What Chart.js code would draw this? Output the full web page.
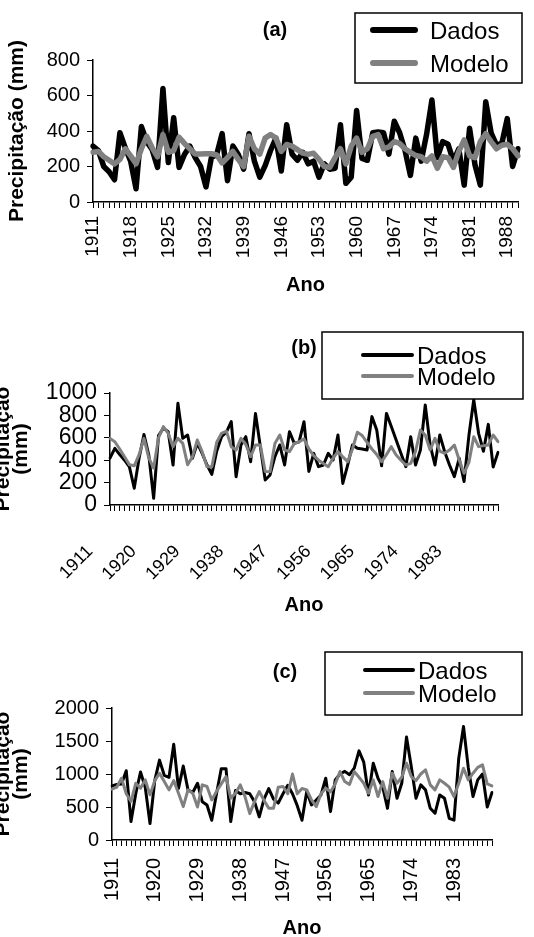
<!DOCTYPE html>
<html>
<head>
<meta charset="utf-8">
<script src="https://cdn.jsdelivr.net/npm/chart.js@4.4.0/dist/chart.umd.min.js"></script>
<style>
  html, body { margin: 0; padding: 0; background: #fff; }
  #wrap { position: relative; width: 534px; height: 937px; overflow: hidden; }
  canvas { position: absolute; left: 0; }
</style>
</head>
<body>
<div id="wrap">
  <canvas id="chartA" width="534" height="315" style="top:0px"></canvas>
  <canvas id="chartB" width="534" height="310" style="top:315px"></canvas>
  <canvas id="chartC" width="534" height="312" style="top:625px"></canvas>
</div>
<script>
// years on the x axis
function yearRange(first, last) {
    const out = [];
    for (let y = first; y <= last; y++) out.push(String(y));
    return out;
}
const yearsA = yearRange(1911, 1990);
const yearsB = yearRange(1911, 1991);
const yearsC = yearRange(1911, 1991);

// (a) precipitation, mm
const dadosA = [315, 290, 200, 170, 125, 390, 305, 230, 75, 425, 340, 295, 195, 640, 222, 475, 195, 268, 315, 250,
    200, 85, 250, 268, 385, 120, 315, 268, 185, 385, 230, 140, 205, 290, 360, 175, 435,
    270, 235, 280, 215, 230, 140, 215, 185, 190, 435, 105, 140, 515, 245, 235, 390, 395, 390, 270, 455,
    390, 290, 150, 360, 230, 380, 575, 250, 340, 325, 230, 300, 95, 415, 210, 95, 565, 390, 320, 330, 470, 200, 300];
const modeloA = [280, 285, 255, 235, 215, 240, 300, 260, 215, 300, 370, 305, 255, 380, 280, 290, 365, 330, 300, 270,
    270, 272, 272, 265, 220, 250, 285, 240, 200, 370, 300, 270, 360, 380, 360, 285, 324,
    315, 295, 275, 268, 275, 240, 200, 195, 250, 300, 215, 315, 360, 280, 300, 370, 380, 300, 310, 340,
    330, 300, 280, 262, 255, 230, 260, 190, 255, 250, 195, 285, 350, 260, 250, 340, 385, 340, 300, 320, 325, 300, 260];

// (b)
const dadosB = [420, 505, 450, 400, 340, 150, 420, 630, 446, 60, 620, 685, 655, 357, 908, 595, 625, 417, 550, 461,
    357, 274, 480, 610, 650, 744, 253, 536, 610, 387, 818, 521, 223, 268, 431, 536, 357, 655, 550, 565,
    744, 300, 461, 342, 357, 461, 402, 625, 193, 357, 536, 506, 500, 491, 789, 670, 350, 818, 700, 580,
    460, 342, 610, 357, 491, 893, 536, 357, 625, 476, 357, 253, 417, 210, 620, 940, 640, 480, 720, 340, 470];
const modeloB = [595, 565, 500, 431, 360, 350, 450, 595, 420, 330, 600, 700, 640, 521, 595, 550, 360, 430, 580, 476,
    342, 342, 560, 640, 660, 521, 491, 595, 540, 431, 536, 536, 300, 298, 550, 625, 491, 476, 550, 565,
    590, 500, 440, 400, 370, 342, 420, 476, 430, 387, 500, 650, 620, 560, 500, 450, 387, 450, 521, 446,
    400, 357, 372, 480, 670, 625, 491, 595, 480, 461, 490, 536, 402, 283, 380, 610, 521, 530, 536, 625, 565];

// (c)
const dadosC = [820, 840, 850, 1050, 280, 700, 1030, 800, 250, 900, 1210, 980, 950, 1450, 780, 1120, 760, 720, 860, 580,
    530, 300, 700, 1080, 1080, 280, 750, 700, 720, 700, 580, 350, 620, 780, 620, 560, 700, 830, 700, 520,
    300, 734, 531, 607, 683, 936, 430, 911, 1000, 1040, 990, 1090, 1350, 1180, 683, 1164, 936, 800, 480, 1037,
    632, 860, 1560, 1113, 632, 835, 759, 481, 405, 683, 632, 329, 300, 1240, 1720, 1100, 658, 911, 1000, 500, 720];
const modeloC = [770, 800, 936, 700, 582, 860, 784, 911, 683, 900, 1012, 885, 760, 900, 708, 506, 759, 708, 500, 835,
    810, 607, 734, 850, 961, 632, 708, 835, 658, 400, 582, 734, 600, 481, 481, 800, 810, 700, 1000, 700,
    780, 760, 607, 506, 700, 784, 730, 850, 1037, 885, 840, 1037, 950, 860, 708, 911, 658, 885, 632, 1012,
    860, 950, 1164, 961, 900, 1000, 1063, 835, 759, 911, 860, 800, 658, 860, 1088, 911, 1012, 1100, 1139, 850, 820];

const FONT = '"Liberation Sans", Arial, sans-serif';

// panel letter + boxed legend drawn over the plot
const panelDecor = {
    id: 'panelDecor',
    afterDraw(chart, args, opts) {
        const ctx = chart.ctx;
        ctx.save();
        ctx.fillStyle = '#000';
        ctx.font = 'bold 20px ' + FONT;
        ctx.textAlign = 'center';
        ctx.textBaseline = 'middle';
        ctx.fillText(opts.title, opts.titleX, opts.titleY);

        const [bx, by, bw, bh] = opts.box;
        ctx.fillStyle = '#fff';
        ctx.fillRect(bx, by, bw, bh);
        ctx.strokeStyle = '#000';
        ctx.lineWidth = 1.5;
        ctx.strokeRect(bx, by, bw, bh);

        ctx.font = '24px ' + FONT;
        ctx.textAlign = 'left';
        chart.data.datasets.forEach((ds, i) => {
            const y = opts.rows[i];
            ctx.beginPath();
            ctx.moveTo(opts.lineX[0], y);
            ctx.lineTo(opts.lineX[1], y);
            ctx.strokeStyle = ds.borderColor;
            ctx.lineWidth = opts.lineW;
            ctx.lineCap = 'round';
            ctx.stroke();
            ctx.fillStyle = '#000';
            ctx.fillText(ds.label, opts.textX, y + 2);
        });
        ctx.restore();
    }
};

function makePanel(id, cfg) {
    const H = cfg.height;
    const area = cfg.area;
    return new Chart(document.getElementById(id), {
        type: 'line',
        data: {
            labels: cfg.years,
            datasets: [
                { label: 'Dados', data: cfg.dados, borderColor: '#000000', borderWidth: cfg.lw, order: 1 },
                { label: 'Modelo', data: cfg.modelo, borderColor: '#808080', borderWidth: cfg.lw, order: 0 }
            ]
        },
        options: {
            responsive: false,
            animation: false,
            devicePixelRatio: 1,
            layout: { padding: { left: 0, right: 534 - area.right, top: area.top, bottom: 0 } },
            elements: {
                point: { radius: 0 },
                line: { tension: 0, borderJoinStyle: 'round', borderCapStyle: 'round' }
            },
            plugins: {
                legend: { display: false },
                tooltip: { enabled: false },
                panelDecor: cfg.decor
            },
            scales: {
                x: {
                    grid: { drawOnChartArea: false, tickLength: 6, color: '#000', lineWidth: 1 },
                    border: { color: '#000', width: 1.5 },
                    ticks: {
                        autoSkip: false,
                        minRotation: cfg.rot,
                        maxRotation: cfg.rot,
                        padding: cfg.xPad,
                        labelOffset: cfg.xOff,
                        color: '#000',
                        font: { family: FONT, size: cfg.xFont },
                        callback: function (v, i) {
                            return i % cfg.step === 0 ? this.getLabelForValue(v) : '';
                        }
                    },
                    title: {
                        display: true, text: 'Ano', color: '#000',
                        font: { family: FONT, size: 20, weight: 'bold' },
                        padding: { top: 0, bottom: cfg.anoPad }
                    },
                    afterFit(s) { s.height = H - area.bottom; s.paddingLeft = 0; s.paddingRight = 0; }
                },
                y: {
                    min: 0,
                    max: cfg.yMax,
                    ticks: {
                        stepSize: cfg.yStep, padding: 7, color: '#000', autoSkip: false,
                        font: { family: FONT, size: cfg.yFont },
                        callback: v => String(v)
                    },
                    grid: { drawOnChartArea: false, tickLength: 6, color: '#000' },
                    border: { color: '#000', width: 1.5 },
                    title: {
                        display: true, text: cfg.yTitle, color: '#000',
                        font: { family: FONT, size: 21, weight: 'bold', lineHeight: cfg.yTitleLH },
                        padding: { top: cfg.yTitlePad, bottom: 0 }
                    },
                    afterFit(s) { s.width = area.left; s.paddingTop = 0; s.paddingBottom = 0; }
                }
            }
        },
        plugins: [panelDecor]
    });
}

makePanel('chartA', {
    height: 315,
    area: { left: 93, right: 518, top: 60, bottom: 202 },
    years: yearsA, dados: dadosA, modelo: modeloA,
    lw: 5.5, rot: 90, step: 7, xPad: 8, xOff: 0, xFont: 19, anoPad: 18,
    yMax: 800, yStep: 200, yFont: 20,
    yTitle: 'Precipitação (mm)', yTitleLH: 1.2, yTitlePad: 5,
    decor: { title: '(a)', titleX: 275, titleY: 30, box: [355, 13, 167, 70],
        lineX: [373, 415], rows: [30, 63], textX: 430, lineW: 6 }
});

makePanel('chartB', {
    height: 310,
    area: { left: 110, right: 498, top: 78, bottom: 190 },
    years: yearsB, dados: dadosB, modelo: modeloB,
    lw: 3, rot: 45, step: 9, xPad: 30, xOff: -20, xFont: 18, anoPad: 8,
    yMax: 1000, yStep: 200, yFont: 23,
    yTitle: ['Precipitaçao', '(mm)'], yTitleLH: 0.86, yTitlePad: -6,
    decor: { title: '(b)', titleX: 304, titleY: 33, box: [322, 17, 201, 67],
        lineX: [363, 412], rows: [40, 61], textX: 417, lineW: 4 }
});

makePanel('chartC', {
    height: 312,
    area: { left: 112, right: 492, top: 83, bottom: 215 },
    years: yearsC, dados: dadosC, modelo: modeloC,
    lw: 3, rot: 90, step: 9, xPad: 12, xOff: 0, xFont: 20, anoPad: -3,
    yMax: 2000, yStep: 500, yFont: 20,
    yTitle: ['Precipitaçao', '(mm)'], yTitleLH: 0.86, yTitlePad: -6,
    decor: { title: '(c)', titleX: 285, titleY: 47, box: [325, 27, 197, 63],
        lineX: [365, 413], rows: [45, 68], textX: 418, lineW: 4 }
});
</script>
</body>
</html>
